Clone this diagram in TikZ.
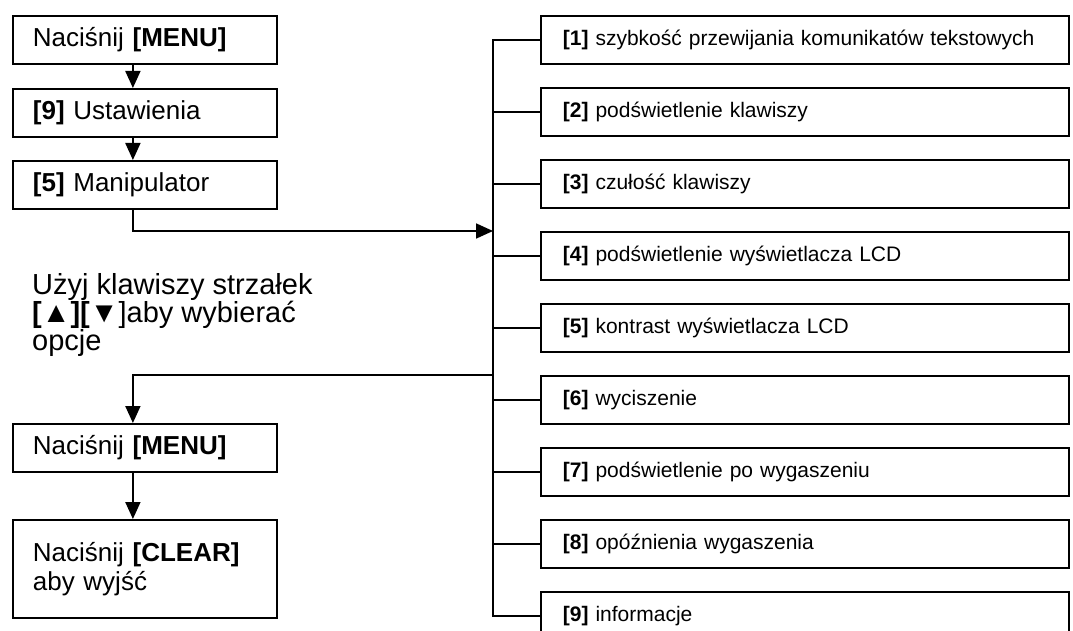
\documentclass[tikz,border=0pt]{standalone}
\usepackage{fontspec}
\setmainfont{Liberation Sans}
\usetikzlibrary{arrows.meta}
\newcommand{\bigtxt}{\fontsize{26}{29}\selectfont}
\newcommand{\hinttxt}{\fontsize{29}{28}\selectfont}
\newcommand{\smalltxt}{\fontsize{21}{25}\selectfont}
\begin{document}
\begin{tikzpicture}[x=1pt, y=-1pt,
  stepbox/.style={draw, line width=1.8pt, inner sep=0pt, inner xsep=20pt, text width=224pt, align=left, minimum height=48pt, anchor=north west, font=\bigtxt},
  optbox/.style={draw, line width=1.8pt, inner sep=0pt, inner xsep=22pt, text width=484pt, align=left, minimum height=48pt, anchor=north west, font=\smalltxt},
  link/.style={line width=1.8pt},
  arr/.style={line width=1.8pt, -{Triangle[length=17pt,width=15pt]}}]
%\draw [very thin, gray] (0,0) grid (1073,631);
\useasboundingbox (0,0) rectangle (1073,631);
\clip (0,0) rectangle (1073,631);
\node[stepbox] (menu) at (12,15) {Naciśnij \textbf{[MENU]}};
\node[stepbox] (sett) at (12,88) {\textbf{[9]} Ustawienia};
\node[stepbox] (manip) at (12,160) {\textbf{[5]} Manipulator};
\node[anchor=base west, align=left, inner sep=0pt, font=\hinttxt] (hint) at (32,350) {Użyj klawiszy strzałek\\\textbf{[▲][▼}]aby wybierać\\opcje};
\node[stepbox] (menub) at (12,423) {Naciśnij \textbf{[MENU]}};
\node[stepbox, minimum height=98pt] (clear) at (12,519) {Naciśnij \textbf{[CLEAR]}\\aby wyjść};
\node[optbox] (opt1) at (540,15) {\textbf{[1]} szybkość przewijania komunikatów tekstowych};
\node[optbox] (opt2) at (540,87) {\textbf{[2]} podświetlenie klawiszy};
\node[optbox] (opt3) at (540,159) {\textbf{[3]} czułość klawiszy};
\node[optbox] (opt4) at (540,231) {\textbf{[4]} podświetlenie wyświetlacza LCD};
\node[optbox] (opt5) at (540,303) {\textbf{[5]} kontrast wyświetlacza LCD};
\node[optbox] (opt6) at (540,375) {\textbf{[6]} wyciszenie};
\node[optbox] (opt7) at (540,447) {\textbf{[7]} podświetlenie po wygaszeniu};
\node[optbox] (opt8) at (540,519) {\textbf{[8]} opóźnienia wygaszenia};
\node[optbox] (opt9) at (540,591) {\textbf{[9]} informacje};
% bus line
\coordinate (bus) at (493,0);
\coordinate (inlet) at (493,231);
\coordinate (outlet) at (493,375);
\draw[link] (opt1.west) -- (opt1.west -| bus) -- (opt9.west -| bus) -- (opt9.west);
\draw[link] (opt2.west) -- (opt2.west -| bus);
\draw[link] (opt3.west) -- (opt3.west -| bus);
\draw[link] (opt4.west) -- (opt4.west -| bus);
\draw[link] (opt5.west) -- (opt5.west -| bus);
\draw[link] (opt6.west) -- (opt6.west -| bus);
\draw[link] (opt7.west) -- (opt7.west -| bus);
\draw[link] (opt8.west) -- (opt8.west -| bus);
% arrows
\draw[arr] ([xshift=-12pt]menu.south) -- ([xshift=-12pt]sett.north);
\draw[arr] ([xshift=-12pt]sett.south) -- ([xshift=-12pt]manip.north);
\draw[arr] ([xshift=-12pt]manip.south) |- (inlet);
\draw[arr] (outlet) -| ([xshift=-12pt]menub.north);
\draw[arr] ([xshift=-12pt]menub.south) -- ([xshift=-12pt]clear.north);
\end{tikzpicture}
\end{document}
